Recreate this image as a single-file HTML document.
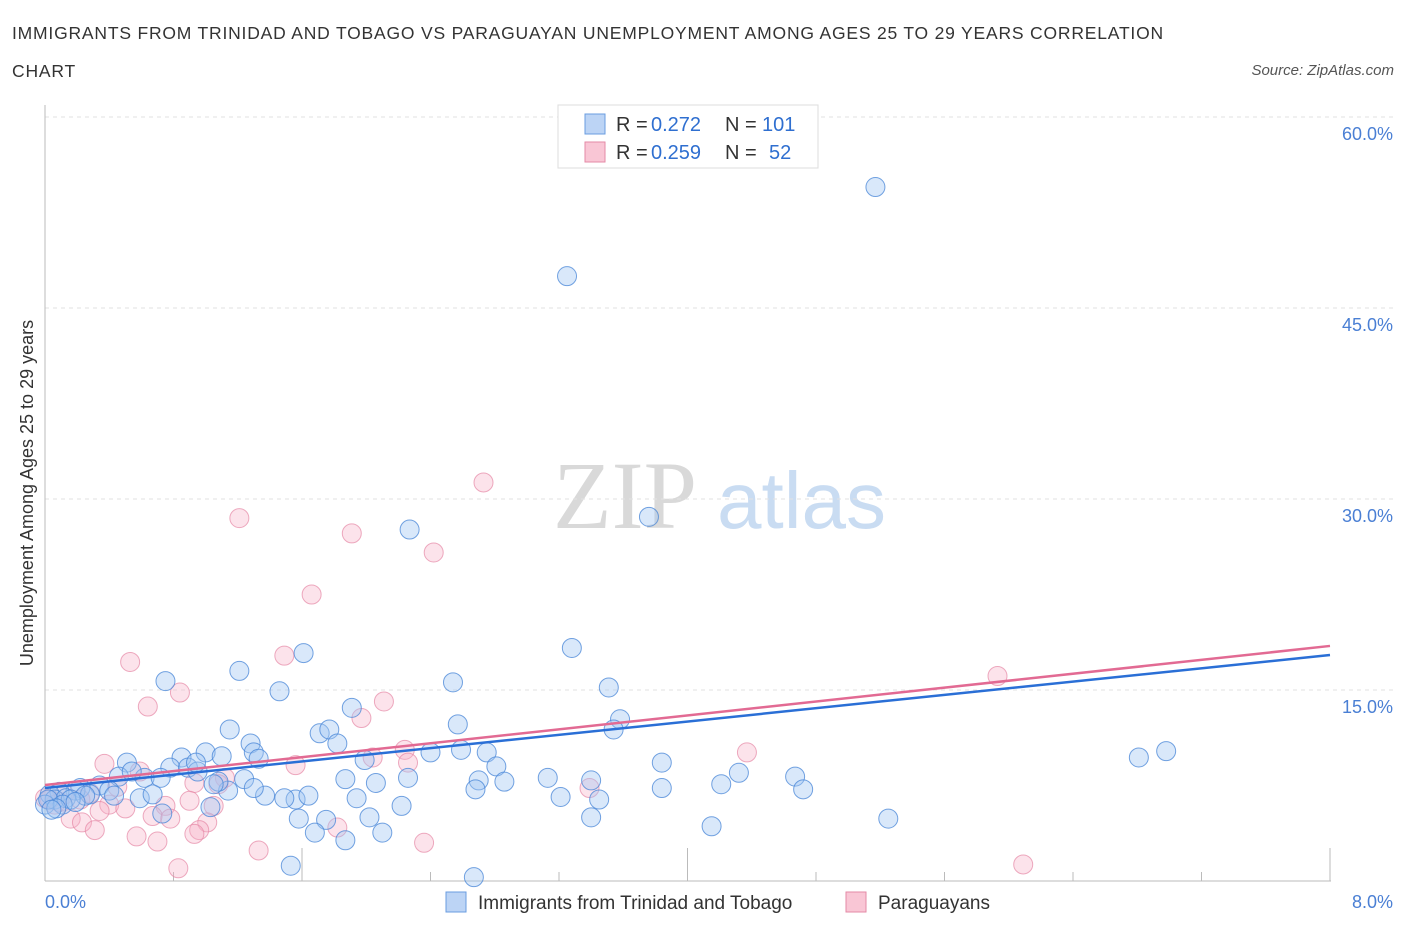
<!DOCTYPE html>
<html><head><meta charset="utf-8">
<style>
html,body{margin:0;padding:0;background:#fff;}
body{width:1406px;height:930px;position:relative;overflow:hidden;font-family:"Liberation Sans",sans-serif;}
.t{position:absolute;white-space:nowrap;}
</style></head>
<body>
<div class="t" style="left:12px;top:14px;font-size:17.5px;letter-spacing:0.8px;color:#333;line-height:38px;">IMMIGRANTS FROM TRINIDAD AND TOBAGO VS PARAGUAYAN UNEMPLOYMENT AMONG AGES 25 TO 29 YEARS CORRELATION<br>CHART</div>
<div class="t" style="right:12px;top:62px;font-size:15px;color:#555;font-style:italic;">Source: ZipAtlas.com</div>
<svg id="chart" width="1406" height="930" style="position:absolute;left:0;top:0;" xmlns="http://www.w3.org/2000/svg">
<text x="553" y="528" font-family="Liberation Serif,serif" font-size="96" fill="#d9d9d9">ZIP</text>
<text x="717" y="528" font-family="Liberation Sans,sans-serif" font-size="80" fill="#c9dcf2">atlas</text>
<g id="grid"></g><g id="axes"></g><g id="pts"></g><g id="lines"></g>
<text transform="translate(33,493) rotate(-90)" text-anchor="middle" font-size="18" fill="#333">Unemployment Among Ages 25 to 29 years</text>
<text x="45" y="908" font-size="18" fill="#4a7fd4">0.0%</text>
<text x="1393" y="908" text-anchor="end" font-size="18" fill="#4a7fd4">8.0%</text>
<g>
<rect x="558" y="105" width="260" height="63" fill="#fff" stroke="#ddd"/>
<rect x="585" y="114" width="20" height="20" fill="#bcd4f5" stroke="#6a9ce0"/>
<rect x="585" y="142" width="20" height="20" fill="#f9c6d5" stroke="#e48aa6"/>
<text x="616" y="131" font-size="20" fill="#333">R =</text>
<text x="651" y="131" font-size="20" fill="#2f6fd0">0.272</text>
<text x="725" y="131" font-size="20" fill="#333">N =</text>
<text x="762" y="131" font-size="20" fill="#2f6fd0">101</text>
<text x="616" y="159" font-size="20" fill="#333">R =</text>
<text x="651" y="159" font-size="20" fill="#2f6fd0">0.259</text>
<text x="725" y="159" font-size="20" fill="#333">N =</text>
<text x="769" y="159" font-size="20" fill="#2f6fd0">52</text>
</g>
<g>
<rect x="446" y="892" width="20" height="20" fill="#bcd4f5" stroke="#6a9ce0"/>
<text x="478" y="909" font-size="19" fill="#333">Immigrants from Trinidad and Tobago</text>
<rect x="846" y="892" width="20" height="20" fill="#f9c6d5" stroke="#e48aa6"/>
<text x="878" y="909" font-size="19" fill="#333">Paraguayans</text>
</g>
</svg>
<script>
const blueX=[5.17,3.25,3.76,2.27,3.28,1.61,1.21,0.75,1.46,2.54,3.51,1.91,2.57,1.15,3.58,3.54,1.71,1.77,1.82,1.28,1.30,1.00,0.85,1.10,1.33,0.51,1.99,2.40,2.59,2.75,2.81,6.81,6.98,3.84,4.32,4.67,0.78,0.89,0.95,0.62,0.72,1.24,2.06,1.87,2.26,2.70,2.86,3.13,3.40,4.21,3.84,4.72,0.46,0.54,0.34,0.40,0.22,0.19,0.09,0.03,0.06,0.13,0.28,0.59,0.67,1.14,1.37,1.56,1.49,1.64,1.94,2.22,2.68,3.21,3.45,1.03,0.73,1.58,1.75,2.02,3.40,5.25,4.15,1.68,1.87,2.10,1.53,2.67,1.30,0.43,0.25,0.16,0.00,0.02,0.11,0.07,0.04,0.94,1.08,1.05,0.19];
const blueY=[54.5,47.5,28.6,27.6,18.3,17.9,16.5,15.7,14.9,15.6,15.2,13.6,12.3,11.9,12.7,11.9,11.6,11.9,10.8,10.8,10.1,10.1,9.7,9.8,9.6,9.3,9.5,10.1,10.3,10.1,9.0,9.7,10.2,9.3,8.5,8.2,8.9,8.9,8.6,8.1,8.1,8.0,7.7,8.0,8.1,7.9,7.8,8.1,7.9,7.6,7.3,7.2,8.2,8.6,7.5,7.1,7.3,7.1,7.0,6.8,6.4,6.5,6.8,6.5,6.8,7.1,6.7,6.4,6.5,6.7,6.5,5.9,7.2,6.6,6.4,5.8,5.3,4.9,4.8,5.0,5.0,4.9,4.3,3.8,3.2,3.8,1.2,0.3,7.3,6.7,6.7,6.4,6.0,6.4,6.0,5.7,5.6,9.3,7.8,7.6,6.2];
const pinkX=[2.73,1.21,1.91,2.42,1.66,1.49,0.53,0.84,0.64,2.11,1.97,5.93,4.37,2.24,2.04,2.26,1.56,0.37,0.59,1.12,0.45,3.39,0.93,1.08,0.28,0.22,0.09,0.03,0.40,0.90,0.75,0.50,0.34,1.05,0.67,0.16,0.23,0.31,0.78,1.01,0.96,0.93,0.57,0.70,1.82,1.33,2.36,0.83,6.09,0.06,0.12,0.00];
const pinkY=[31.3,28.5,27.3,25.8,22.5,17.7,17.2,14.8,13.7,14.1,12.8,16.1,10.1,10.3,9.7,9.3,9.1,9.2,8.6,8.1,7.4,7.3,7.7,7.6,6.9,6.4,6.2,6.4,6.0,6.3,5.9,5.7,5.5,5.9,5.1,4.9,4.6,4.0,4.9,4.6,4.0,3.7,3.5,3.1,4.2,2.4,3.0,1.0,1.3,6.0,6.8,6.5];
const trendX=[0,8];
const blueTrend=[7.3,17.75];
const pinkTrend=[7.54,18.46];
const yTicks=[15,30,45,60];
const yTickLabels=["15.0%","30.0%","45.0%","60.0%"];
const xTicks=[0,0.8,1.6,2.4,3.2,4.0,4.8,5.6,6.4,7.2,8.0];
const NS="http://www.w3.org/2000/svg";
const X0=45,X1=1330,Y0=881,Y60=117;
const sx=v=>X0+(X1-X0)*v/8;
const sy=v=>Y0-(Y0-Y60)*v/60;
function mk(tag,attrs,parent){const e=document.createElementNS(NS,tag);for(const k in attrs)e.setAttribute(k,attrs[k]);parent.appendChild(e);return e;}
const grid=document.getElementById('grid'),axes=document.getElementById('axes'),pts=document.getElementById('pts'),lines=document.getElementById('lines');
yTicks.forEach((t,i)=>{
  const l=mk('line',{x1:X0,x2:1393,y1:sy(t),y2:sy(t),stroke:'#e2e2e2','stroke-dasharray':'4 4'},grid);
  
  
  const tx=mk('text',{x:1393,y:sy(t)+23,'text-anchor':'end','font-size':18,fill:'#4a7fd4'},grid);
  tx.textContent=yTickLabels[i];
  
  
});
const ya=mk('line',{x1:X0,x2:X0,y1:105,y2:Y0,stroke:'#bbb'},axes);


const xa=mk('line',{x1:X0,x2:1331,y1:Y0,y2:Y0,stroke:'#bbb'},axes);


xTicks.forEach((t,i)=>{
  if(i===0)return;
  const tall=(i===2||i===5||i===10);
  const l=mk('line',{x1:sx(t),x2:sx(t),y1:tall?848:872,y2:Y0,stroke:'#bbb'},axes);
  
  
});
function drawPts(xs,ys,fill,stroke,name){
  xs.forEach((x,i)=>{
    const c=mk('circle',{cx:sx(x),cy:sy(ys[i]),r:9.5,fill:fill,stroke:stroke,'stroke-width':1},pts);
    
    
  });
}
drawPts(pinkX,pinkY,'rgba(246,175,198,0.35)','rgba(230,135,165,0.7)','paraguayan-point');
drawPts(blueX,blueY,'rgba(160,197,242,0.4)','rgba(70,132,215,0.75)','trinidad-point');
const bl=mk('line',{x1:sx(trendX[0]),y1:sy(blueTrend[0]),x2:sx(trendX[1]),y2:sy(blueTrend[1]),stroke:'#2a6fd6','stroke-width':2.5},lines);


const pl=mk('line',{x1:sx(trendX[0]),y1:sy(pinkTrend[0]),x2:sx(trendX[1]),y2:sy(pinkTrend[1]),stroke:'#e26a93','stroke-width':2.5},lines);


</script>
</body></html>
